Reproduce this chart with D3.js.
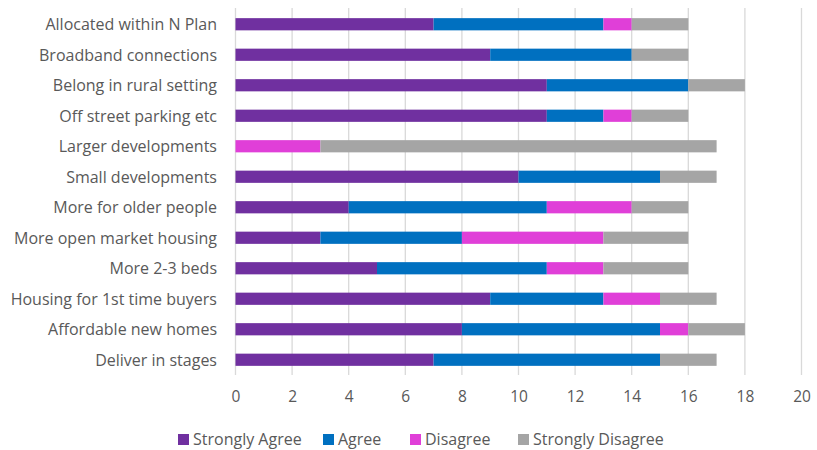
<!DOCTYPE html>
<html><head><meta charset="utf-8">
<script src="https://cdn.jsdelivr.net/npm/d3@7/dist/d3.min.js"></script>
<style>body{margin:0;background:#fff}svg{display:block}</style>
</head><body><svg id="c" width="817" height="450"></svg>
<script>
const categories = ["Allocated within N Plan","Broadband connections","Belong in rural setting","Off street parking etc","Larger developments","Small developments","More for older people","More open market housing","More 2-3 beds","Housing for 1st time buyers","Affordable new homes","Deliver in stages"];
const seriesNames = ["Strongly Agree","Agree","Disagree","Strongly Disagree"];
const stronglyAgree = [7,9,11,11,0,10,4,3,5,9,8,7];
const agree = [6,5,5,2,0,5,7,5,6,4,7,8];
const disagree = [1,0,0,1,3,0,3,5,2,2,1,0];
const stronglyDisagree = [2,2,2,2,14,2,2,3,3,2,2,2];
const xTicks = [0,2,4,6,8,10,12,14,16,18,20];
const colors = ["#7030A0","#0070C0","#E03FD8","#A5A5A5"];

const font = "Open Sans, sans-serif";
const svg = d3.select("#c");
const pL = 235.5, pR = 801.5, pT = 9, pB = 375;
const x = d3.scaleLinear().domain([0,20]).range([pL,pR]);
const y = d3.scaleBand().domain(categories).range([pT,pB]).paddingInner(0.6).paddingOuter(0.3);

const rows = categories.map((c,i)=>({cat:c, "Strongly Agree":stronglyAgree[i], "Agree":agree[i], "Disagree":disagree[i], "Strongly Disagree":stronglyDisagree[i]}));
const stack = d3.stack().keys(seriesNames)(rows);

// grid
svg.append("g").selectAll("line").data(xTicks).join("line")
  .attr("x1",d=>x(d)).attr("x2",d=>x(d)).attr("y1",pT-1).attr("y2",pB)
  .attr("stroke","#D9D9D9").attr("stroke-width",1.3);

// bars
svg.append("g").selectAll("g").data(stack).join("g").attr("fill",(d,i)=>colors[i])
  .selectAll("rect").data(d=>d).join("rect")
  .attr("x",d=>x(d[0])).attr("width",d=>x(d[1])-x(d[0]))
  .attr("y",d=>y(d.data.cat)).attr("height",y.bandwidth());

// category labels
const yAxis = d3.axisLeft(y).tickSize(0).tickPadding(0);
const ya = svg.append("g").attr("transform",`translate(217,1)`).call(yAxis);
ya.select(".domain").remove();
ya.selectAll("text").attr("font-family",font).attr("font-size","16px").attr("fill","#595959");

// x tick labels
const xAxis = d3.axisBottom(x).tickValues(xTicks).tickSize(0).tickPadding(0);
const xa = svg.append("g").attr("transform",`translate(0,391)`).call(xAxis);
xa.select(".domain").remove();
xa.selectAll("text").attr("font-family",font).attr("font-size","15.5px").attr("fill","#595959");

// legend
const legX = [178,323,410,518];
const lg = svg.append("g").selectAll("g").data(seriesNames).join("g")
  .attr("transform",(d,i)=>`translate(${legX[i]},434)`);
lg.append("rect").attr("width",11).attr("height",11).attr("fill",(d,i)=>colors[i]);
lg.append("text").attr("x",15).attr("y",11).text(d=>d)
  .attr("font-family",font).attr("font-size","16px").attr("fill","#595959");
</script></body></html>
